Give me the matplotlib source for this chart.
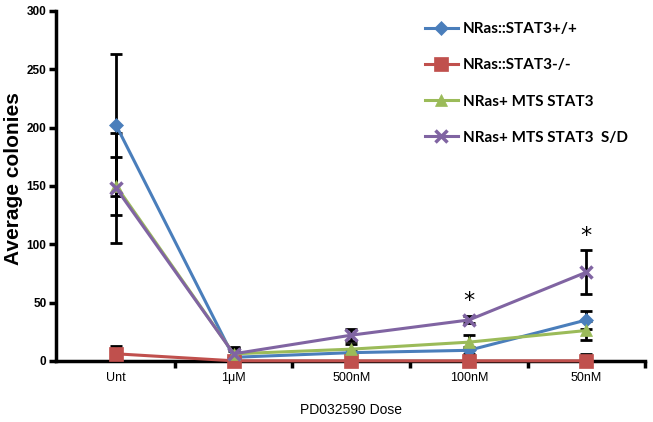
import numpy as np
import matplotlib
matplotlib.use("Agg")
import matplotlib.pyplot as plt

# Data
doses = ["Unt", "1\u03bcM", "500nM", "100nM", "50nM"]
labels = ["NRas::STAT3+/+", "NRas::STAT3-/-", "NRas+ MTS STAT3", "NRas+ MTS STAT3  S/D"]
wt = [202, 3, 7, 9, 35]
wt_err = [61, 5, 3, 3, 8]
ko = [6, 0, 0, 0, 0]
ko_err = [7, 0, 0, 0, 6]
mts = [150, 6, 10, 16, 26]
mts_err = [25, 5, 4, 6, 8]
mts_sd = [148, 6, 22, 35, 76]
mts_sd_err = [47, 6, 5, 3, 19]
star_doses = [3, 4]
star_y = [51, 107]

colors = ["#4a7ebb", "#c0504d", "#9bbb59", "#8064a2"]
markers = ["D", "s", "^", "x"]
msizes = [7, 10, 9, 9]

fig = plt.figure(figsize=(6.53, 4.22), dpi=100)
ax = fig.add_axes([0.086, 0.145, 0.902, 0.829])

x = np.arange(1, len(doses) + 1)
series = [(wt, wt_err), (ko, ko_err), (mts, mts_err), (mts_sd, mts_sd_err)]

# error bars first (black)
for vals, err in series:
    ax.errorbar(x, vals, yerr=err, fmt="none", ecolor="black", elinewidth=2,
                capsize=4, capthick=2, zorder=2)

handles = []
for (vals, err), c, m, ms, lab in zip(series, colors, markers, msizes, labels):
    h, = ax.plot(x, vals, color=c, marker=m, markersize=ms, linewidth=2.2,
                 markeredgewidth=2.5 if m == "x" else 0.5, markeredgecolor=c,
                 label=lab, zorder=3, clip_on=False)
    handles.append(h)

for d, yy in zip(star_doses, star_y):
    ax.text(x[d], yy, "*", ha="center", va="center", fontsize=16)

narrow = ["Liberation Sans Narrow", "Liberation Sans", "DejaVu Sans"]

ax.set_xlim(0.49, 5.5)
ax.set_ylim(0, 300)
ax.set_yticks([0, 50, 100, 150, 200, 250, 300])
ax.set_xticks(x)
ax.set_xticklabels(doses, family=narrow, fontsize=9)
ax.set_xticks([1.5, 2.5, 3.5, 4.5, 5.5], minor=True)
ax.tick_params(axis="x", which="major", length=0, pad=8)
ax.tick_params(axis="x", which="minor", length=5, width=2.5, direction="out")
ax.tick_params(axis="y", length=5, width=2.5, direction="out", pad=2)
for t in ax.get_yticklabels():
    t.set_family(narrow)
    t.set_fontsize(8.5)
    t.set_fontweight("bold")

for s in ["top", "right"]:
    ax.spines[s].set_visible(False)
for s in ["left", "bottom"]:
    ax.spines[s].set_linewidth(2.5)

ax.set_ylabel("Average colonies", fontsize=15, fontweight="bold",
              family=["Liberation Sans", "DejaVu Sans"])
ax.yaxis.set_label_coords(-0.056, 0.52)
ax.set_xlabel("PD032590 Dose", fontsize=10, family=narrow, labelpad=14)

leg = ax.legend(handles=handles, loc="upper left", bbox_to_anchor=(0.615, 0.985),
                borderaxespad=0, frameon=False, labelspacing=1.45,
                handlelength=2.2, handletextpad=0.3,
                prop={"family": ["Lato", "DejaVu Sans"], "weight": "bold", "size": 11})

fig.savefig("out.png", dpi=100)
